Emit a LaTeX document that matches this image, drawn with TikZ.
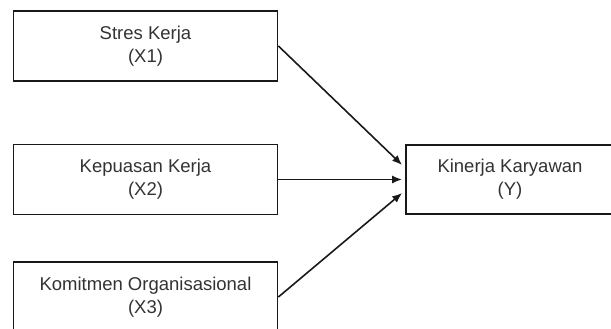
\documentclass[tikz,border=0pt]{standalone}
\usepackage{fontspec}
\setmainfont{Liberation Sans}
\usetikzlibrary{arrows.meta}

\begin{document}
\begin{tikzpicture}[x=1pt,y=1pt,
        var/.style={draw=black!90,line width=1.8pt,fill=white,minimum width=264pt,minimum height=70pt,
            align=center,text=black!80,font=\fontsize{18.5}{23}\selectfont},
        link/.style={line width=1.6pt,draw=black!90,-{Latex[length=10pt,width=8pt]}}]
    \useasboundingbox (0,0) rectangle (611,329);
    % variabel bebas
    \node [var] (x1) at (145.5,283) {Stres Kerja\\(X1)};
    \node [var] (x2) at (145.5,149.5) {Kepuasan Kerja\\(X2)};
    \node [var] (x3) at (145.5,32) {Komitmen Organisasional\\(X3)};
    % variabel terikat
    \node [var,minimum width=208pt,minimum height=69pt] (y) at (510,149.5) {Kinerja Karyawan\\(Y)};
    \draw [link] (x1.east) -- ([yshift=14.5pt,xshift=-3pt]y.west);
    \draw [link] (x2.east) -- ([xshift=-3pt]y.west);
    \draw [link] (x3.east) -- ([yshift=-13.5pt,xshift=-3pt]y.west);
\end{tikzpicture}
\end{document}
